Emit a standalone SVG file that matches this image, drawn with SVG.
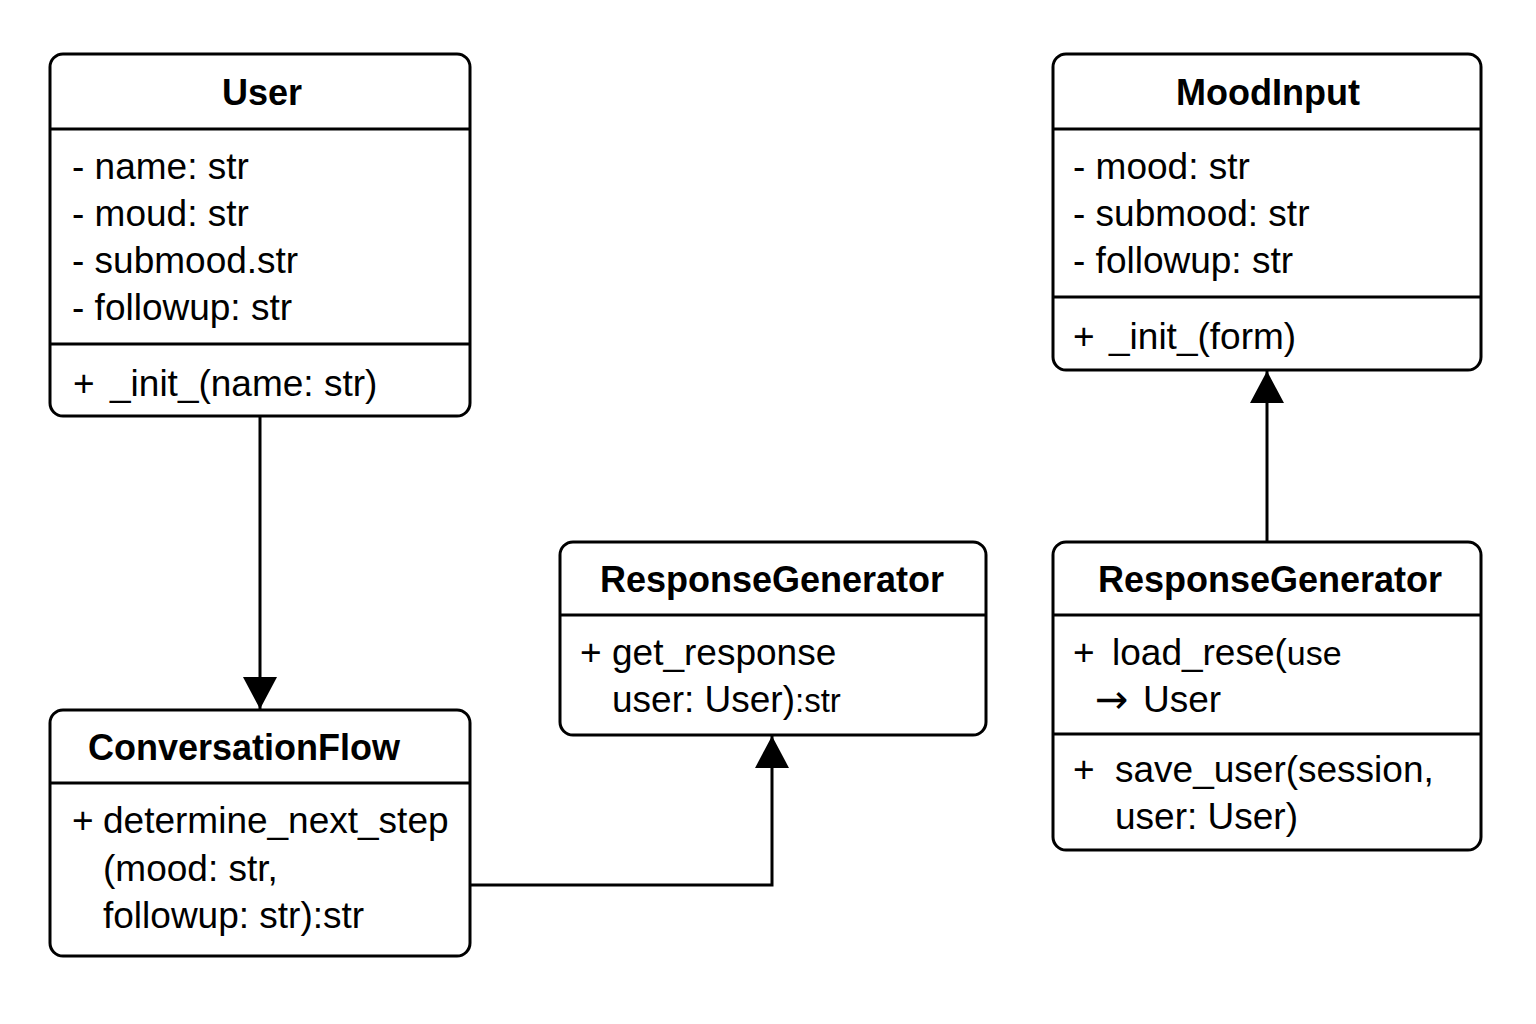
<svg xmlns="http://www.w3.org/2000/svg" width="1536" height="1024" viewBox="0 0 1536 1024">
<defs>
<style>
.box{fill:#fff;stroke:#000;stroke-width:3}
.div{stroke:#000;stroke-width:3}
.t{font-family:"Liberation Sans",Arial,sans-serif;font-size:36px;font-weight:bold;fill:#000}
.a{font-family:"Liberation Sans",Arial,sans-serif;font-size:37px;fill:#000}
.ar{font-family:"DejaVu Sans",sans-serif;font-size:40px;fill:#000}
.c{fill:none;stroke:#000;stroke-width:3}
</style>
<marker id="arr" viewBox="0 0 32 34" refX="32" refY="17" markerWidth="32" markerHeight="34" markerUnits="userSpaceOnUse" orient="auto">
<path d="M0,0 L32,17 L0,34 Z" fill="#000"/>
</marker>
</defs>
<rect width="1536" height="1024" fill="#fff"/>
<g id="connectors">
<line class="c" x1="260" y1="416" x2="260" y2="709" marker-end="url(#arr)"/>
<polyline class="c" points="470,885 772,885 772,736" marker-end="url(#arr)"/>
<line class="c" x1="1267" y1="542" x2="1267" y2="371" marker-end="url(#arr)"/>
</g>
<g id="User">
<rect class="box" x="50" y="54" width="420" height="362" rx="13"/>
<line class="div" x1="50" y1="129" x2="470" y2="129"/>
<line class="div" x1="50" y1="344" x2="470" y2="344"/>
<text class="t" x="262" y="105" text-anchor="middle">User</text>
<text class="a" x="72" y="179">- name: str</text>
<text class="a" x="72" y="226">- moud: str</text>
<text class="a" x="72" y="273">- submood.str</text>
<text class="a" x="72" y="320">- followup: str</text>
<text class="a" x="73" y="396">+</text>
<text class="a" x="110" y="396">_init_(name: str)</text>
</g>
<g id="MoodInput">
<rect class="box" x="1053" y="54" width="428" height="316" rx="13"/>
<line class="div" x1="1053" y1="129" x2="1481" y2="129"/>
<line class="div" x1="1053" y1="297" x2="1481" y2="297"/>
<text class="t" x="1268" y="105" text-anchor="middle">MoodInput</text>
<text class="a" x="1073" y="179">- mood: str</text>
<text class="a" x="1073" y="226">- submood: str</text>
<text class="a" x="1073" y="273">- followup: str</text>
<text class="a" x="1073" y="349">+</text>
<text class="a" x="1109" y="349">_init_(form)</text>
</g>
<g id="ResponseGenerator1">
<rect class="box" x="560" y="542" width="426" height="193" rx="13"/>
<line class="div" x1="560" y1="615" x2="986" y2="615"/>
<text class="t" x="772" y="592" text-anchor="middle">ResponseGenerator</text>
<text class="a" x="580" y="665">+</text>
<text class="a" x="612" y="665">get_response</text>
<text class="a" x="612" y="712">user: User)<tspan font-size="33">:str</tspan></text>
</g>
<g id="ResponseGenerator2">
<rect class="box" x="1053" y="542" width="428" height="308" rx="13"/>
<line class="div" x1="1053" y1="615" x2="1481" y2="615"/>
<line class="div" x1="1053" y1="734" x2="1481" y2="734"/>
<text class="t" x="1270" y="592" text-anchor="middle">ResponseGenerator</text>
<text class="a" x="1073" y="665">+</text>
<text class="a" x="1112" y="665">load_rese(<tspan font-size="34">use</tspan></text>
<text class="ar" x="1095" y="713">→</text>
<text class="a" x="1143" y="712">User</text>
<text class="a" x="1073" y="782">+</text>
<text class="a" x="1115" y="782">save_user(session,</text>
<text class="a" x="1115" y="829">user: User)</text>
</g>
<g id="ConversationFlow">
<rect class="box" x="50" y="710" width="420" height="246" rx="13"/>
<line class="div" x1="50" y1="783" x2="470" y2="783"/>
<text class="t" x="88" y="760">ConversationFlow</text>
<text class="a" x="72" y="833">+</text>
<text class="a" x="103" y="833">determine_next_step</text>
<text class="a" x="103" y="881">(mood: str,</text>
<text class="a" x="103" y="928">followup: str):str</text>
</g>
</svg>
